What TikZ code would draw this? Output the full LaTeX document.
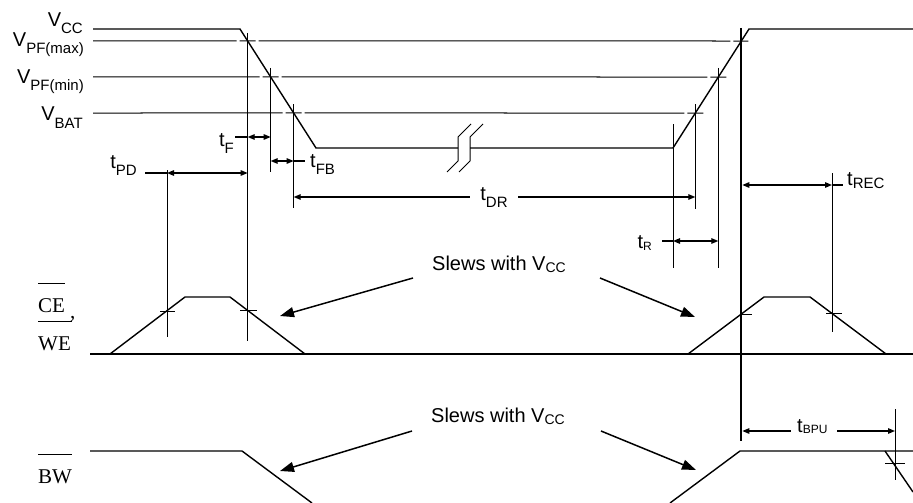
\documentclass[tikz,border=0pt]{standalone}
\usepackage{fontspec}
\setmainfont{Liberation Sans}
\newfontfamily\serifont{Liberation Serif}
\usetikzlibrary{calc,arrows.meta}
\newcommand\mysub[1]{\raisebox{-7pt}{\fontsize{15}{15}\selectfont #1}}
\tikzset{
  sig/.style={line width=1.4pt, line join=miter},
  thr/.style={line width=1pt},
  guide/.style={line width=0.8pt},
  dimline/.style={line width=1.2pt},
  dimtip/.tip={Triangle[length=7pt,width=5.5pt]},
  dimarr/.style={dimline, dimtip-dimtip},
  lab/.style={font=\fontsize{20}{20}\selectfont, inner sep=0pt},
  sigl/.style={font=\serifont\fontsize{21}{21}\selectfont, inner sep=0pt},
  slew/.style={line width=1.5pt, -{Triangle[length=14pt,width=10pt]}},
  ovl/.style={line width=0.8pt},
}
\begin{document}
\begin{tikzpicture}[x=1pt,y=-1pt]
\useasboundingbox (0,0) rectangle (913,503);
% ---- key points of the VCC trace
\coordinate (vs) at (93,29);
\coordinate (hiL) at (240,29);
\coordinate (loL) at (316,148);
\coordinate (brkL) at (458,148);
\coordinate (brkR) at (470,148);
\coordinate (loR) at (673,148);
\coordinate (hiR) at (749,29);
\coordinate (ve) at (913,29);
\coordinate (A1) at ($(hiL)!12/119!(loL)$);
\coordinate (A2) at ($(hiL)!48/119!(loL)$);
\coordinate (A3) at ($(hiL)!84/119!(loL)$);
\coordinate (B3) at ($(loR)!35/119!(hiR)$);
\coordinate (B2) at ($(loR)!71/119!(hiR)$);
\coordinate (B1) at ($(loR)!107/119!(hiR)$);
% ---- level labels
\node[lab, anchor=base east] (lvcc) at (83,27) {V\mysub{CC}};
\node[lab, anchor=base east] (lpfmax) at (84,47) {V\mysub{PF(max)}};
\node[lab, anchor=base east] (lpfmin) at (84,84) {V\mysub{PF(min)}};
\node[lab, anchor=base east] (lbat) at (83,121) {V\mysub{BAT}};
% ---- threshold lines (broken at crossings)
\draw[thr] (93,41) -- ($(A1)+(-11,0)$) ($(A1)+(-8,0)$) -- ($(A1)+(8,0)$)
  ($(A1)+(11,0)$) -- ($(B1)+(-11,0)$) ($(B1)+(-8,0)$) -- ($(B1)+(7,0)$);
\draw[thr] (93,77) -- ($(A2)+(-11,0)$) ($(A2)+(-8,0)$) -- ($(A2)+(8,0)$)
  ($(A2)+(11,0)$) -- ($(B2)+(-11,0)$) ($(B2)+(-8,0)$) -- ($(B2)+(8,0)$);
\draw[thr] (93,113) -- ($(A3)+(-11,0)$) ($(A3)+(-8,0)$) -- ($(A3)+(8,0)$)
  ($(A3)+(11,0)$) -- ($(B3)+(-11,0)$) ($(B3)+(-8,0)$) -- ($(B3)+(8,0)$);
% ---- VCC trace
\draw[sig] (vs) -- (hiL) -- (loL) -- (brkL);
\draw[sig] (brkR) -- (loR) -- (hiR) -- (ve);
% break symbol
\draw[thr] (447,172) -- (458,161) -- (458,137) -- (471,124);
\draw[thr] (459,172) -- (470,161) -- (470,137) -- (483,124);
% ---- guide verticals
\draw[guide] (A1 |- 0,33) -- (A1 |- 0,341);
\draw[guide] (A2 |- 0,68) -- (A2 |- 0,172);
\draw[guide] (A3 |- 0,104) -- (A3 |- 0,208);
\draw[guide] (167,170) -- (167,337);
\draw[guide] (673,124) -- (673,268);
\draw[guide] (B3 |- 0,104) -- (B3 |- 0,209);
\draw[guide] (B2 |- 0,68) -- (B2 |- 0,268);
\draw[line width=2pt] (B1 |- 0,28) -- (B1 |- 0,441);
\draw[guide] (832,173) -- (832,332);
\draw[guide] (895,409) -- (895,480);
% ---- timing dimensions
\draw[dimline] (145,173) -- (167,173);
\draw[dimarr] (167,173) -- (A1 |- 0,173);
\node[lab, anchor=base east] (tpd) at (137,168) {t\mysub{PD}};
\draw[dimline] (235,137) -- (A1 |- 0,137);
\draw[dimarr] (A1 |- 0,137) -- (A2 |- 0,137);
\node[lab, anchor=base east] (tf) at (234,146) {t\mysub{F}};
\draw[dimarr] (A2 |- 0,161) -- (A3 |- 0,161);
\draw[dimline] (A3 |- 0,161) -- (305,161);
\node[lab, anchor=base west] (tfb) at (310,167) {t\mysub{FB}};
\node[lab, anchor=base] (tdr) at (494,200) {t\mysub{DR}};
\draw[dimline, dimtip-] (A3 |- 0,197) -- (470,197);
\draw[dimline, -dimtip] (518,197) -- (B3 |- 0,197);
\draw[dimline] (662,241) -- (673,241);
\draw[dimarr] (673,241) -- (B2 |- 0,241);
\node[lab, anchor=base east] (tr) at (652,248) {t\raisebox{-2pt}{\fontsize{12}{12}\selectfont R}};
\draw[dimarr] ($(B1 |- 0,185)+(1,0)$) -- (832,185);
\draw[dimline] (832,185) -- (843,185);
\node[lab, anchor=base west] (trec) at (847,185) {t\raisebox{-3pt}{\fontsize{15}{15}\selectfont REC}};
\draw[dimline, dimtip-] ($(B1 |- 0,431)+(1,0)$) -- (791,431);
\draw[dimline, -dimtip] (837,431) -- (895,431);
\node[lab, anchor=base west] (tbpu) at (797,432) {t\raisebox{-1pt}{\fontsize{12}{12}\selectfont BPU}};
% ---- CE / WE signal
\node[sigl, anchor=base west] (ce) at (38,312) {CE\hspace{5pt}\raisebox{-6pt}{,}};
\node[sigl, anchor=base west] (we) at (38,350) {WE};
\draw[ovl] (38,283) -- (65,283);
\draw[ovl] (38,321) -- (72,321);
\draw[sig] (90,354) -- (913,354);
\draw[sig] (110,354) -- (185,297) -- (230,297) -- (305,354);
\draw[sig] (688,354) -- (764,297) -- (810,297) -- (886,354);
\draw[guide] (160,311) -- (175,311);
\draw[guide] (240,310) -- (257,310);
\draw[guide] (741,314) -- (752,314);
\draw[guide] (826,313) -- (842,313);
% ---- BW signal
\node[sigl, anchor=base west] (bw) at (38,483) {BW};
\draw[ovl] (38,454) -- (72,454);
\draw[sig] (90,451) -- (242,451) -- (312,503);
\draw[sig] (670,503) -- (740,451) -- (913,451);
\draw[sig] (885,451) -- (913,492);
\draw[guide] (885,463) -- (905,463);
% ---- slew annotations
\node[lab, anchor=base west] (slew1) at (432,270) {Slews with V\raisebox{-2pt}{\fontsize{14}{14}\selectfont CC}};
\node[lab, anchor=base west] (slew2) at (431,422) {Slews with V\raisebox{-2pt}{\fontsize{14}{14}\selectfont CC}};
\coordinate (s1a) at (413,278); \coordinate (s1b) at (280,316);
\coordinate (s1c) at (600,278); \coordinate (s1d) at (695,317);
\coordinate (s2a) at (412,431); \coordinate (s2b) at (280,471);
\coordinate (s2c) at (601,431); \coordinate (s2d) at (696,470);
\draw[slew] (s1a) -- (s1b);
\draw[slew] (s1c) -- (s1d);
\draw[slew] (s2a) -- (s2b);
\draw[slew] (s2c) -- (s2d);
\end{tikzpicture}
\end{document}
